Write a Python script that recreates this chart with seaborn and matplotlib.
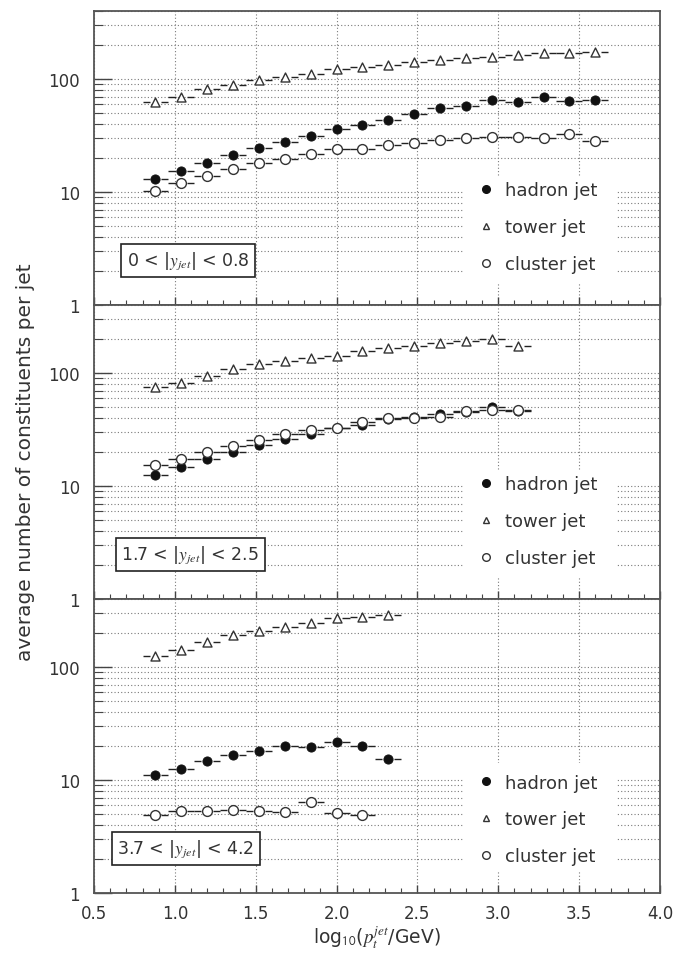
import numpy as np
import pandas as pd
import matplotlib
matplotlib.use("Agg")
import matplotlib.pyplot as plt
from matplotlib.lines import Line2D
from matplotlib.patches import Rectangle
from matplotlib.ticker import LogLocator, NullFormatter, MultipleLocator
import seaborn as sns

# bin centres in log10(pt/GeV); bins are 0.16 wide
x_bins = [0.88, 1.04, 1.20, 1.36, 1.52, 1.68, 1.84, 2.00, 2.16, 2.32,
          2.48, 2.64, 2.80, 2.96, 3.12, 3.28, 3.44, 3.60]
bin_halfwidth = 0.08

# 0 < |y_jet| < 0.8
central_hadron = [13.1, 15.3, 18.1, 21.2, 24.3, 27.9, 31.3, 35.9, 39.2, 43.7,
                  49.4, 55.0, 57.7, 64.7, 62.6, 68.8, 63.8, 65.2]
central_tower = [63.0, 70.0, 81.0, 88.5, 99.0, 104.0, 110.0, 122.0, 128.6, 133.0,
                 142.0, 147.0, 154.5, 158.0, 163.0, 169.0, 169.0, 174.6]
central_cluster = [10.2, 12.1, 14.0, 16.1, 18.1, 19.7, 21.5, 23.9, 24.0, 26.1,
                   27.4, 29.1, 29.9, 30.5, 30.5, 30.3, 32.6, 28.3]

# 1.7 < |y_jet| < 2.5
endcap_hadron = [12.5, 14.8, 17.2, 19.9, 23.2, 26.0, 28.8, 32.3, 34.5, 39.0,
                 40.9, 43.8, 45.6, 50.1, 46.2]
endcap_tower = [75.2, 81.6, 94.1, 107.7, 120.9, 127.6, 136.5, 141.3, 156.3, 167.4,
                171.9, 185.2, 190.2, 198.2, 171.9]
endcap_cluster = [15.5, 17.5, 19.9, 22.7, 25.5, 28.8, 31.2, 32.7, 37.0, 40.1,
                  40.4, 40.9, 46.2, 46.9, 47.5]

# 3.7 < |y_jet| < 4.2
forward_hadron = [11.1, 12.5, 14.6, 16.6, 18.2, 20.0, 19.7, 21.5, 20.1, 15.2]
forward_tower = [125.0, 142.0, 168.0, 193.0, 210.0, 228.0, 246.0, 270.0, 278.0, 291.0]
forward_cluster = [4.91, 5.29, 5.36, 5.43, 5.36, 5.26, 6.35, 5.12, 4.91]

series_names = ["hadron jet", "tower jet", "cluster jet"]
region_labels = ["0 < |$y_{jet}$| < 0.8", "1.7 < |$y_{jet}$| < 2.5", "3.7 < |$y_{jet}$| < 4.2"]
panels = [
    (central_hadron, central_tower, central_cluster),
    (endcap_hadron, endcap_tower, endcap_cluster),
    (forward_hadron, forward_tower, forward_cluster),
]
y_tick_values = [1, 10, 100]
y_tick_labels = ["1", "10", "100"]
x_tick_values = [0.5, 1.0, 1.5, 2.0, 2.5, 3.0, 3.5, 4.0]
x_tick_labels = ["0.5", "1.0", "1.5", "2.0", "2.5", "3.0", "3.5", "4.0"]

sns.set_theme(style="white")
plt.rcParams["font.family"] = ["DejaVu Sans"]
plt.rcParams["mathtext.fontset"] = "stix"

TEXT = "#333333"
GRID = "#7a7a7a"
DOTS = (0, (1, 2))

marker_styles = {
    "hadron jet": dict(marker="o", s=44, color="#111111", edgecolor="#111111", linewidth=0.6),
    "tower jet": dict(marker="^", s=42, color="white", edgecolor="#333333", linewidth=1.0),
    "cluster jet": dict(marker="o", s=50, color="white", edgecolor="#333333", linewidth=1.0),
}
legend_handles = [
    Line2D([], [], linestyle="none", marker="o", markersize=5.5,
           markerfacecolor="#111111", markeredgecolor="#111111"),
    Line2D([], [], linestyle="none", marker="^", markersize=5.0,
           markerfacecolor="white", markeredgecolor="#333333", markeredgewidth=1.0),
    Line2D([], [], linestyle="none", marker="o", markersize=5.5,
           markerfacecolor="white", markeredgecolor="#333333", markeredgewidth=1.0),
]

fig, axes = plt.subplots(3, 1, figsize=(6.74, 9.54), dpi=100, sharex=True,
                         gridspec_kw={"hspace": 0})
fig.subplots_adjust(left=0.1395, right=0.9792, top=0.9874, bottom=0.0629)

legend_y = [0.265, 0.265, 0.25]
box_x = [0.166, 0.170, 0.162]
gap = 0.036  # space left clear around each marker on the bin bars

for ax, values, region, ly, bx in zip(axes, panels, region_labels, legend_y, box_x):
    frames = []
    for name, vals in zip(series_names, values):
        frames.append(pd.DataFrame({"logpt": x_bins[:len(vals)], "n": vals, "kind": name}))
    df = pd.concat(frames, ignore_index=True)

    for name in series_names:
        sub = df[df["kind"] == name]
        xs = sub["logpt"].to_numpy()
        ys = sub["n"].to_numpy()
        # horizontal bin-width bars, broken around the marker
        ax.hlines(ys, xs - bin_halfwidth, xs - gap, color="#222222", linewidth=1.0, zorder=2)
        ax.hlines(ys, xs + gap, xs + bin_halfwidth, color="#222222", linewidth=1.0, zorder=2)
        sns.scatterplot(data=sub, x="logpt", y="n", ax=ax, zorder=3, legend=False,
                        **marker_styles[name])

    ax.set_yscale("log")
    ax.set_ylim(1, 400)
    ax.set_xlim(0.5, 4.0)
    ax.set_yticks(y_tick_values, labels=y_tick_labels)
    ax.yaxis.set_minor_locator(LogLocator(base=10, subs=np.arange(2, 10), numticks=20))
    ax.yaxis.set_minor_formatter(NullFormatter())
    ax.set_xticks(x_tick_values, labels=x_tick_labels)
    ax.xaxis.set_minor_locator(MultipleLocator(0.1))
    ax.set_xlabel("")
    ax.set_ylabel("")

    ax.grid(True, which="major", axis="x", linestyle=DOTS, color=GRID, linewidth=0.8)
    ax.grid(True, which="both", axis="y", linestyle=DOTS, color=GRID, linewidth=0.8)
    ax.set_axisbelow(True)

    ax.tick_params(axis="y", which="major", direction="in", length=13, width=1.0,
                   left=True, right=False, pad=10, labelsize=12, color="#444444",
                   labelcolor=TEXT)
    ax.tick_params(axis="y", which="minor", direction="in", length=6.5, width=0.8,
                   left=True, right=False, color="#444444")
    ax.tick_params(axis="x", which="major", direction="in", length=6, width=1.0,
                   bottom=True, top=False, pad=8, labelsize=12, color="#444444",
                   labelcolor=TEXT)
    ax.tick_params(axis="x", which="minor", direction="in", length=3.6, width=0.8,
                   bottom=True, top=False, color="#444444")
    for spine in ax.spines.values():
        spine.set_color("#555555")
        spine.set_linewidth(1.3)

    # blank area behind the legend
    ax.add_patch(Rectangle((2.78, 1.55), 0.95, 14.0 - 1.55, facecolor="white",
                           edgecolor="none", zorder=1))
    ax.legend(legend_handles, series_names, loc="center left",
              bbox_to_anchor=(0.677, ly), frameon=False, fontsize=13,
              handlelength=1.0, handletextpad=0.55, labelspacing=1.05,
              borderpad=0, borderaxespad=0, labelcolor=TEXT)

    ax.text(bx, 0.151, region, transform=ax.transAxes, ha="center", va="center",
            fontsize=12.5, color=TEXT, zorder=5,
            bbox=dict(boxstyle="square,pad=0.32", facecolor="white",
                      edgecolor="#222222", linewidth=1.2))

axes[-1].set_xlabel(r"log$_{\mathsf{10}}$($p_t^{jet}$/GeV)", fontsize=13.5,
                    color=TEXT, labelpad=1)
fig.text(0.038, 0.516, "average number of constituents per jet", rotation=90,
         ha="center", va="center", fontsize=14.5, color=TEXT)

fig.savefig("out.png", dpi=100)
